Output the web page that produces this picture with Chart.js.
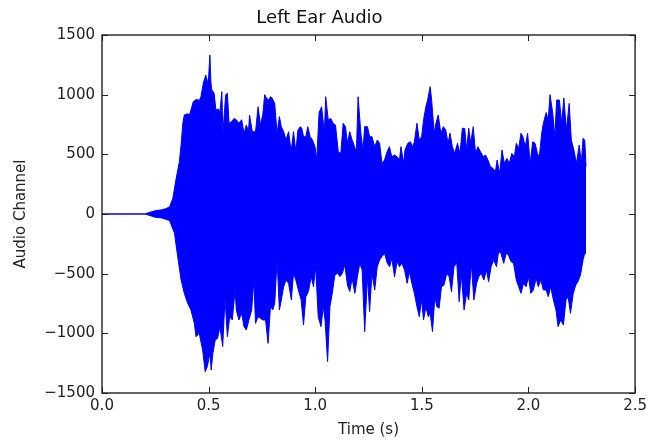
<!DOCTYPE html>
<html>
<head>
<meta charset="utf-8">
<script src="https://cdn.jsdelivr.net/npm/chart.js"></script>
<style>
  html, body { margin: 0; padding: 0; background: #fff; }
  #wrap { width: 651px; height: 441px; }
</style>
</head>
<body>
<div id="wrap"><canvas id="myChart"></canvas></div>
<script>
// Waveform peaks: upper and lower envelope (time in s, amplitude)
var topT = [0, 0.2, 0.22, 0.25, 0.28, 0.3, 0.317, 0.332, 0.348, 0.363, 0.371, 0.379, 0.386, 0.402, 0.41, 0.417, 0.428, 0.438, 0.448, 0.456,
  0.464, 0.475, 0.487, 0.494, 0.5, 0.506, 0.511, 0.515, 0.526, 0.534, 0.546, 0.553, 0.562, 0.567, 0.58, 0.588, 0.596, 0.608, 0.619, 0.63,
  0.642, 0.655, 0.666, 0.677, 0.687, 0.692, 0.705, 0.72, 0.732, 0.743, 0.754, 0.763, 0.771, 0.782, 0.79, 0.798, 0.81, 0.821, 0.832, 0.841,
  0.852, 0.863, 0.875, 0.887, 0.898, 0.909, 0.919, 0.93, 0.937, 0.945, 0.956, 0.965, 0.976, 0.987, 0.999, 1.007, 1.018, 1.03, 1.043, 1.049,
  1.061, 1.073, 1.084, 1.095, 1.108, 1.12, 1.131, 1.142, 1.151, 1.162, 1.173, 1.185, 1.193, 1.201, 1.214, 1.224, 1.232, 1.245, 1.255, 1.266,
  1.279, 1.291, 1.302, 1.313, 1.325, 1.337, 1.348, 1.359, 1.372, 1.384, 1.395, 1.402, 1.415, 1.421, 1.434, 1.446, 1.457, 1.465, 1.477, 1.488,
  1.499, 1.508, 1.519, 1.527, 1.539, 1.546, 1.558, 1.566, 1.577, 1.589, 1.601, 1.612, 1.623, 1.632, 1.643, 1.654, 1.667, 1.679, 1.69, 1.701,
  1.71, 1.72, 1.729, 1.741, 1.752, 1.763, 1.775, 1.788, 1.799, 1.81, 1.822, 1.834, 1.845, 1.853, 1.865, 1.876, 1.887, 1.899, 1.91, 1.922,
  1.934, 1.943, 1.954, 1.965, 1.974, 1.985, 1.996, 2.008, 2.02, 2.031, 2.042, 2.051, 2.062, 2.07, 2.083, 2.093, 2.101, 2.113, 2.124, 2.132,
  2.145, 2.156, 2.166, 2.178, 2.191, 2.201, 2.213, 2.225, 2.238, 2.248, 2.256, 2.264, 2.27];
var topV = [0, 0, 12, 28, 35, 45, 60, 130, 300, 440, 580, 760, 830, 840, 830, 870, 941, 955, 960, 950,
  983, 1095, 1165, 1095, 1150, 1332, 1100, 1039, 1011, 871, 880, 850, 1025, 677, 1000, 1011, 760, 775, 800, 790,
  760, 790, 677, 746, 690, 830, 690, 690, 899, 746, 830, 1000, 972, 955, 983, 972, 927, 677, 816, 732,
  690, 620, 690, 522, 690, 522, 704, 732, 718, 648, 648, 732, 648, 620, 564, 452, 850, 899, 677, 983,
  790, 800, 760, 746, 522, 508, 760, 732, 592, 690, 620, 564, 508, 983, 677, 536, 732, 732, 648, 648,
  564, 620, 592, 424, 452, 522, 564, 480, 494, 480, 452, 564, 424, 536, 592, 606, 564, 606, 760, 620,
  648, 790, 899, 955, 1067, 955, 677, 760, 830, 677, 732, 704, 592, 677, 564, 508, 592, 508, 718, 718,
  536, 718, 592, 732, 508, 564, 522, 480, 494, 452, 396, 382, 354, 452, 340, 536, 424, 466, 424, 508,
  480, 592, 550, 677, 648, 564, 677, 424, 606, 592, 508, 480, 677, 760, 850, 790, 1000, 857, 648, 955,
  955, 760, 972, 704, 927, 620, 536, 424, 578, 424, 634, 620, 400];

var botT = [0, 0.2, 0.22, 0.25, 0.28, 0.3, 0.317, 0.34, 0.355, 0.371, 0.386, 0.402, 0.417, 0.433, 0.441, 0.456, 0.472, 0.484, 0.494, 0.506,
  0.512, 0.52, 0.531, 0.542, 0.553, 0.566, 0.577, 0.588, 0.599, 0.611, 0.624, 0.63, 0.642, 0.655, 0.666, 0.677, 0.689, 0.702, 0.712, 0.72,
  0.732, 0.743, 0.754, 0.767, 0.779, 0.79, 0.801, 0.81, 0.821, 0.832, 0.841, 0.852, 0.863, 0.875, 0.888, 0.898, 0.909, 0.921, 0.934, 0.945,
  0.956, 0.968, 0.981, 0.992, 1.002, 1.014, 1.027, 1.038, 1.046, 1.058, 1.069, 1.08, 1.092, 1.105, 1.116, 1.127, 1.139, 1.151, 1.162, 1.173,
  1.186, 1.198, 1.209, 1.22, 1.232, 1.245, 1.255, 1.266, 1.279, 1.291, 1.302, 1.313, 1.325, 1.338, 1.349, 1.359, 1.372, 1.384, 1.395, 1.406,
  1.419, 1.431, 1.442, 1.453, 1.465, 1.477, 1.488, 1.499, 1.508, 1.519, 1.53, 1.539, 1.55, 1.561, 1.57, 1.581, 1.592, 1.604, 1.617, 1.628,
  1.639, 1.651, 1.664, 1.675, 1.685, 1.698, 1.71, 1.72, 1.732, 1.744, 1.757, 1.767, 1.778, 1.791, 1.803, 1.813, 1.825, 1.837, 1.85, 1.86,
  1.871, 1.884, 1.896, 1.906, 1.918, 1.93, 1.943, 1.954, 1.965, 1.977, 1.989, 2.0, 2.011, 2.023, 2.036, 2.046, 2.058, 2.07, 2.083, 2.093,
  2.104, 2.117, 2.129, 2.139, 2.151, 2.164, 2.176, 2.186, 2.197, 2.21, 2.222, 2.232, 2.244, 2.256, 2.264, 2.27];
var botV = [0, 0, -10, -28, -33, -45, -55, -162, -357, -553, -665, -749, -804, -916, -1028, -1000, -1140, -1321, -1279, -1167,
  -1307, -1167, -1056, -1042, -944, -1111, -700, -1028, -860, -888, -637, -804, -888, -832, -944, -972, -888, -804, -553, -916,
  -860, -874, -888, -888, -1084, -776, -804, -749, -385, -804, -720, -609, -553, -581, -720, -497, -553, -637, -720, -930,
  -693, -650, -525, -609, -441, -860, -944, -776, -888, -1237, -776, -665, -511, -497, -525, -497, -427, -595, -650, -539,
  -665, -525, -413, -469, -986, -525, -818, -497, -637, -441, -385, -357, -329, -413, -441, -371, -525, -399, -441, -413,
  -469, -581, -483, -581, -665, -776, -860, -720, -888, -776, -860, -832, -986, -693, -776, -790, -609, -595, -497, -525,
  -650, -441, -413, -735, -497, -804, -665, -720, -413, -720, -581, -525, -497, -553, -469, -567, -441, -385, -441, -315,
  -329, -413, -329, -343, -399, -413, -553, -609, -665, -581, -609, -525, -665, -637, -539, -609, -553, -637, -637, -693,
  -609, -720, -804, -944, -888, -930, -720, -693, -832, -665, -595, -567, -511, -385, -329, -330];

var xTicks = [0, 0.5, 1.0, 1.5, 2.0, 2.5];
var yTicks = [-1500, -1000, -500, 0, 500, 1000, 1500];

Chart.defaults.font.family = "'DejaVu Sans', sans-serif";
Chart.defaults.color = '#222';

function pts(t, v) {
  return t.map(function (x, i) { return { x: x, y: v[i] }; });
}

// matplotlib-style frame with inward ticks on all four sides
var frameTicks = {
  id: 'frameTicks',
  afterDraw: function (chart) {
    var ctx = chart.ctx, a = chart.chartArea;
    var xs = chart.scales.x, ys = chart.scales.y;
    var len = 6;
    ctx.save();
    ctx.strokeStyle = '#222';
    ctx.lineWidth = 1;
    ctx.beginPath();
    xTicks.forEach(function (v) {
      var px = Math.round(xs.getPixelForValue(v)) + 0.5;
      ctx.moveTo(px, a.bottom); ctx.lineTo(px, a.bottom - len);
      ctx.moveTo(px, a.top); ctx.lineTo(px, a.top + len);
    });
    yTicks.forEach(function (v) {
      var py = Math.round(ys.getPixelForValue(v)) + 0.5;
      ctx.moveTo(a.left, py); ctx.lineTo(a.left + len, py);
      ctx.moveTo(a.right, py); ctx.lineTo(a.right - len, py);
    });
    ctx.stroke();
    ctx.lineWidth = 1.4;
    ctx.strokeRect(a.left, a.top, a.right - a.left, a.bottom - a.top);
    ctx.restore();
  }
};

var ctx = document.getElementById('myChart').getContext('2d');
var myChart = new Chart(ctx, {
  type: 'line',
  data: {
    datasets: [{
      data: pts(topT, topV),
      borderColor: '#0000ff',
      backgroundColor: '#0000ff',
      borderWidth: 1,
      pointRadius: 0,
      tension: 0,
      fill: '+1'
    }, {
      data: pts(botT, botV),
      borderColor: '#0000ff',
      backgroundColor: '#0000ff',
      borderWidth: 1,
      pointRadius: 0,
      tension: 0,
      fill: false
    }]
  },
  options: {
    responsive: true,
    maintainAspectRatio: false,
    animation: false,
    layout: { padding: { left: 0, right: 12, top: 0, bottom: 0 } },
    plugins: {
      legend: { display: false },
      tooltip: { enabled: false },
      title: {
        display: true,
        text: 'Left Ear Audio',
        color: '#111',
        font: { size: 18, weight: 'normal' },
        padding: { top: 8, bottom: 5.4 }
      }
    },
    scales: {
      x: {
        type: 'linear',
        min: 0,
        max: 2.5,
        afterFit: function (s) { s.height = 48; },
        border: { display: false },
        grid: { display: false, drawTicks: false },
        afterBuildTicks: function (s) { s.ticks = xTicks.map(function (v) { return { value: v }; }); },
        ticks: {
          padding: 4,
          maxRotation: 0,
          font: { size: 15 },
          callback: function (v) { return Number(v).toFixed(1); }
        },
        title: {
          display: true,
          text: 'Time (s)',
          font: { size: 15 },
          padding: { top: 0, bottom: 2 }
        }
      },
      y: {
        min: -1500,
        max: 1500,
        afterFit: function (s) { s.width = 102; },
        border: { display: false },
        grid: { display: false, drawTicks: false },
        afterBuildTicks: function (s) { s.ticks = yTicks.map(function (v) { return { value: v }; }); },
        ticks: {
          padding: 7,
          font: { size: 15 },
          callback: function (v) { return v < 0 ? '\u2212' + Math.abs(v) : String(v); }
        },
        title: {
          display: true,
          text: 'Audio Channel',
          font: { size: 15 },
          padding: { top: 12, bottom: 0 }
        }
      }
    }
  },
  plugins: [frameTicks]
});
</script>
</body>
</html>
